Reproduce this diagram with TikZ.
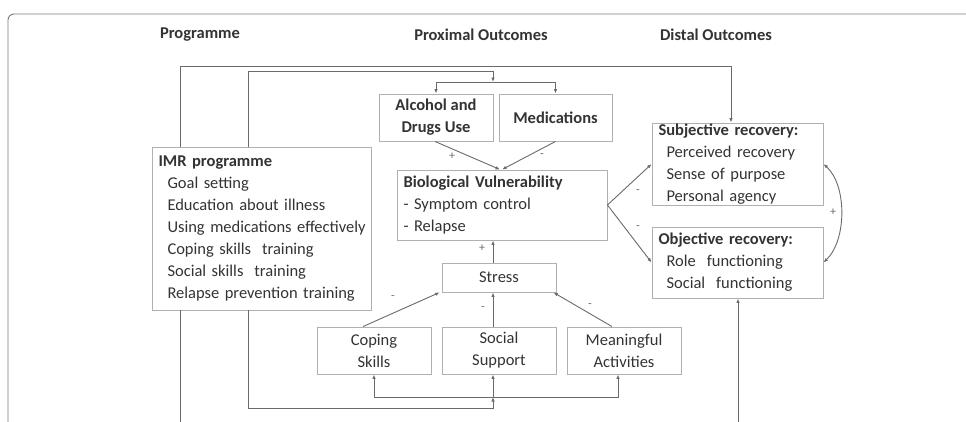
\documentclass[tikz,border=0pt]{standalone}
\usepackage{fontspec}
\setmainfont{Carlito}
\usetikzlibrary{arrows.meta,calc}
\definecolor{txtc}{HTML}{333333}
\definecolor{linec}{HTML}{6A6A6A}
\definecolor{boxc}{HTML}{B0B0B0}
\definecolor{framec}{HTML}{7A7A7A}
\begin{document}
\begin{tikzpicture}[x=1pt,y=-1pt,
  every node/.style={text=txtc},
  head/.style={font=\fontsize{16.5}{22}\selectfont\bfseries, inner sep=0pt},
  box/.style={draw=boxc, line width=0.9pt, rectangle, inner sep=0pt,
    font=\fontsize{16.5}{22}\selectfont, align=center},
  lbox/.style={box, align=left, inner xsep=6.5pt},
  sign/.style={font=\fontsize{12}{12}\selectfont, text=linec, inner sep=0pt},
  conn/.style={draw=linec, line width=0.9pt},
  arr/.style={conn, -{Latex[length=4.5pt,width=3.5pt]}},
  darr/.style={conn, {Latex[length=4.5pt,width=3.5pt]}-{Latex[length=4.5pt,width=3.5pt]}}
]
\useasboundingbox (0,0) rectangle (966,421);
% frame
\draw[framec, line width=0.9pt, rounded corners=6pt] (8,430) -- (8,14) -- (975,14);

% headers
\node[head] (hprog) at (200,35) {Programme};
\node[head] (hprox) at (481,35) {Proximal Outcomes};
\node[head] (hdist) at (716,35) {Distal Outcomes};

% boxes
\node[lbox, minimum width=219pt, minimum height=163pt, text width=206pt] (imr) at (261.5,228.5)
 {\textbf{IMR programme}\\
  \hspace*{9pt}Goal setting\\
  \hspace*{9pt}Education about illness\\
  \hspace*{9pt}\mbox{Using medications effectively}\\
  \hspace*{9pt}Coping skills\ \ training\\
  \hspace*{9pt}Social skills\ \ training\\
  \hspace*{9pt}Relapse prevention training};
\node[box, minimum width=114pt, minimum height=47pt] (alc) at (436,117.5)
 {\bfseries Alcohol and\\\bfseries Drugs Use};
\node[box, minimum width=113pt, minimum height=47pt] (med) at (555.5,117.5)
 {\bfseries Medications};
\node[lbox, minimum width=210pt, minimum height=70pt, text width=197pt] (bv) at (502,205)
 {\textbf{Biological Vulnerability}\\- Symptom control\\- Relapse};
\node[box, minimum width=114pt, minimum height=29pt] (stress) at (499,277.5) {Stress};
\node[box, minimum width=114pt, minimum height=47pt] (cop) at (374,350.5) {Coping\\Skills};
\node[box, minimum width=114pt, minimum height=47pt] (soc) at (499,350.5) {Social\\Support};
\node[box, minimum width=114pt, minimum height=47pt] (mea) at (624,350.5) {Meaningful\\Activities};
\node[lbox, minimum width=171pt, minimum height=82pt, text width=158pt] (subj) at (737.5,164)
 {\textbf{Subjective recovery:}\\
  \hspace*{8pt}Perceived recovery\\
  \hspace*{8pt}Sense of purpose\\
  \hspace*{8pt}Personal agency};
\node[lbox, minimum width=171pt, minimum height=71pt, text width=158pt] (obj) at (737.5,262.5)
 {\textbf{Objective recovery:}\\
  \hspace*{8pt}Role\ \ functioning\\
  \hspace*{8pt}Social\ \ functioning};

% helper coordinates
\coordinate (xa) at (180,0);
\coordinate (xb) at (248,0);
\coordinate (cx) at (493,0);
\coordinate (xm) at (618,0);
\coordinate (topA) at (180,66);
\coordinate (topB) at (248,71);
\coordinate (split) at (493,82);
\coordinate (botA) at (180,430);
\coordinate (botO) at (738,430);
\coordinate (botB) at (493,408);
\coordinate (junc) at (493,397);

% top feedback lines
\draw[arr] (imr.north -| xa) -- (topA) -| ([xshift=-6.5pt]subj.north);
\draw[arr] (imr.north -| xb) -- (topB) -| (split);
\draw[arr] (split) -| (alc.north);
\draw[arr] (split) -| (med.north);

% into biological vulnerability
\draw[arr] ([xshift=-1pt]alc.south) -- ([xshift=-2pt]bv.north);
\draw[arr] (med.south) -- ([xshift=0pt]bv.north);
\draw[arr] (stress.north -| cx) -- (bv.south -| cx);

% into stress
\draw[arr] ([xshift=-11pt]cop.north) -- ([xshift=-2pt]stress.south west);
\draw[arr] (soc.north -| cx) -- (stress.south -| cx);
\draw[arr] ([xshift=-12pt]mea.north) -- ([xshift=-3pt]stress.south east);

% to distal outcomes
\draw[arr] (bv.east) -- (subj.west);
\draw[arr] (bv.east) -- (obj.west);
\draw[darr] (subj.east) .. controls (847,185) and (847,240) .. (obj.east);

% bottom lines
\draw[conn] (imr.south -| xa) -- (botA);
\draw[arr] (botO) -- (obj.south -| botO);
\draw[arr] (imr.south -| xb) |- (botB) -- (junc);
\draw[arr] (junc) -| (cop.south);
\draw[arr] (junc) -| (mea.south -| xm);
\draw[arr] (junc) -- (soc.south -| cx);

% signs
\node[sign] (s1) at (452,156) {+};
\node[sign] (s2) at (542,156) {-};
\node[sign] (s3) at (482,248) {+};
\node[sign] (s4) at (393,298) {-};
\node[sign] (s5) at (483,309) {-};
\node[sign] (s6) at (590,306) {-};
\node[sign] (s7) at (638,192) {-};
\node[sign] (s8) at (638,228) {-};
\node[sign] (s9) at (833,212) {+};
\end{tikzpicture}
\end{document}
